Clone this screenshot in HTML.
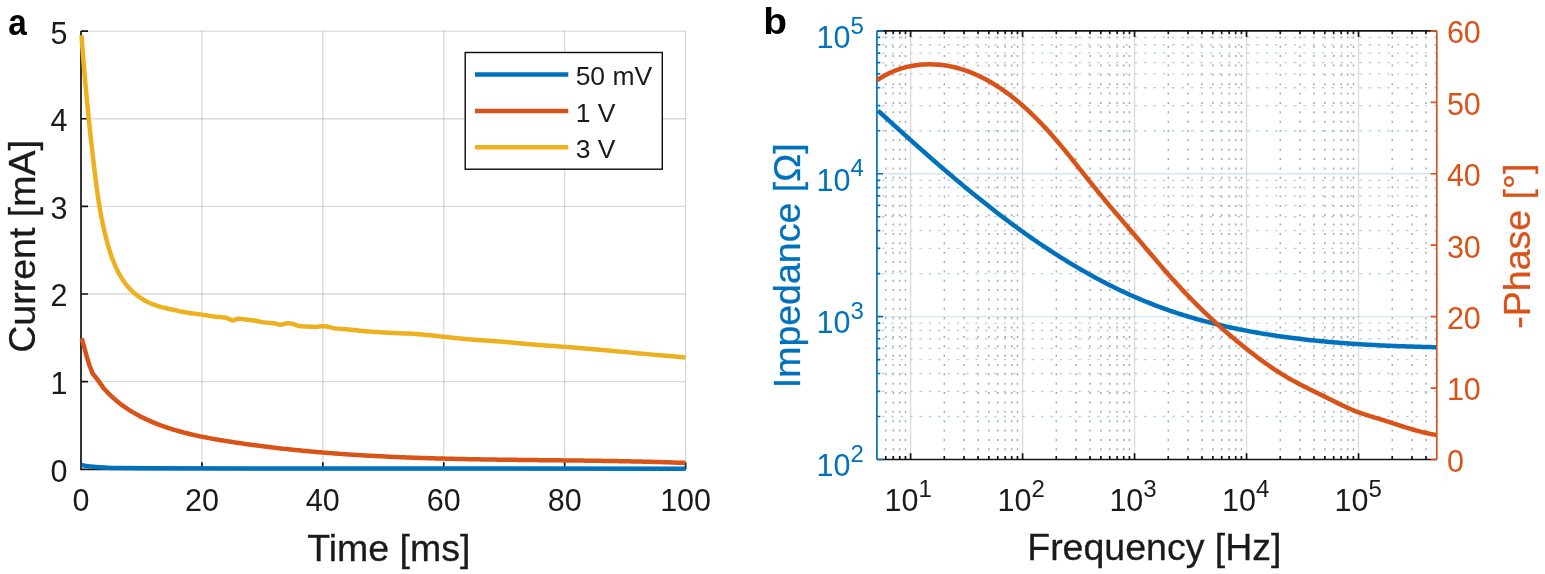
<!DOCTYPE html><html><head><meta charset="utf-8"><style>html,body{margin:0;padding:0;background:#fff;width:1545px;height:574px;overflow:hidden}svg{display:block}text{font-family:'Liberation Sans', Arial, Helvetica, sans-serif;paint-order:stroke}</style></head><body>
<svg width="1545" height="574" viewBox="0 0 1545 574">
<rect width="1545" height="574" fill="#fff"/>
<path d="M81.00 31.10V469.30M201.92 31.10V469.30M322.84 31.10V469.30M443.76 31.10V469.30M564.68 31.10V469.30M685.60 31.10V469.30" stroke="#262626" stroke-opacity="0.17" stroke-width="1.3" fill="none"/>
<path d="M81.00 469.30H685.60M81.00 381.66H685.60M81.00 294.02H685.60M81.00 206.38H685.60M81.00 118.74H685.60M81.00 31.10H685.60" stroke="#262626" stroke-opacity="0.17" stroke-width="1.3" fill="none"/>
<path d="M81.00 31.10V469.30H685.60M81.00 469.30H88.00M81.00 381.66H88.00M81.00 294.02H88.00M81.00 206.38H88.00M81.00 118.74H88.00M81.00 31.10H88.00M81.00 469.30V462.30M201.92 469.30V462.30M322.84 469.30V462.30M443.76 469.30V462.30M564.68 469.30V462.30M685.60 469.30V462.30" stroke="#141414" stroke-width="1.7" fill="none"/>
<text x="67.50" y="481.70" font-size="30.5" fill="#1a1a1a" text-anchor="end">0</text>
<text x="67.50" y="394.06" font-size="30.5" fill="#1a1a1a" text-anchor="end">1</text>
<text x="67.50" y="306.42" font-size="30.5" fill="#1a1a1a" text-anchor="end">2</text>
<text x="67.50" y="218.78" font-size="30.5" fill="#1a1a1a" text-anchor="end">3</text>
<text x="67.50" y="131.14" font-size="30.5" fill="#1a1a1a" text-anchor="end">4</text>
<text x="67.50" y="43.50" font-size="30.5" fill="#1a1a1a" text-anchor="end">5</text>
<text x="81.00" y="511.00" font-size="30.5" fill="#1a1a1a" text-anchor="middle">0</text>
<text x="201.92" y="511.00" font-size="30.5" fill="#1a1a1a" text-anchor="middle">20</text>
<text x="322.84" y="511.00" font-size="30.5" fill="#1a1a1a" text-anchor="middle">40</text>
<text x="443.76" y="511.00" font-size="30.5" fill="#1a1a1a" text-anchor="middle">60</text>
<text x="564.68" y="511.00" font-size="30.5" fill="#1a1a1a" text-anchor="middle">80</text>
<text x="685.60" y="511.00" font-size="30.5" fill="#1a1a1a" text-anchor="middle">100</text>
<path d="M81.60 465.00 C82.33 465.15 84.03 465.60 86.00 465.90 C87.97 466.20 90.23 466.52 93.40 466.80 C96.57 467.08 101.23 467.40 105.00 467.60 C108.77 467.80 108.50 467.90 116.00 468.00 C123.50 468.10 119.33 468.12 150.00 468.20 C180.67 468.28 210.75 468.42 300.00 468.50 C389.25 468.58 621.25 468.67 685.50 468.70" stroke="#0072BD" stroke-width="4.5" fill="none" stroke-linejoin="round"/>
<path d="M81.70 338.30 L84.30 347.70 L86.90 357.10 L89.50 365.50 L92.60 373.30 L97.90 380.10 L103.43 387.90 L104.79 389.46 L106.18 390.98 L107.59 392.47 L109.02 393.93 L110.47 395.35 L111.94 396.74 L113.44 398.10 L114.94 399.43 L116.47 400.73 L118.02 402.00 L119.58 403.23 L121.17 404.44 L122.76 405.62 L124.38 406.77 L126.01 407.90 L127.65 409.00 L129.31 410.07 L130.99 411.11 L132.67 412.14 L134.38 413.13 L136.09 414.10 L137.82 415.05 L139.55 415.98 L141.30 416.88 L143.06 417.76 L144.83 418.63 L146.61 419.47 L148.40 420.28 L150.20 421.09 L152.01 421.87 L153.82 422.63 L155.65 423.37 L157.48 424.10 L159.32 424.80 L161.17 425.49 L163.02 426.17 L164.88 426.82 L166.75 427.46 L168.63 428.09 L170.51 428.70 L172.40 429.29 L174.30 429.87 L176.20 430.43 L178.11 430.98 L180.03 431.52 L181.95 432.04 L183.87 432.55 L185.80 433.05 L187.73 433.53 L189.67 434.00 L191.62 434.47 L193.57 434.92 L195.52 435.36 L197.47 435.78 L199.43 436.20 L201.40 436.61 L203.36 437.01 L205.33 437.40 L207.30 437.79 L209.28 438.16 L211.25 438.53 L213.23 438.89 L215.21 439.24 L217.20 439.58 L219.18 439.92 L221.17 440.25 L223.15 440.58 L225.14 440.90 L227.13 441.22 L229.12 441.53 L231.10 441.84 L233.09 442.15 L235.08 442.45 L237.07 442.74 L239.06 443.04 L241.05 443.33 L243.04 443.62 L245.03 443.90 L247.02 444.18 L249.01 444.46 L250.99 444.73 L252.98 445.00 L254.97 445.27 L256.96 445.53 L258.95 445.79 L260.94 446.05 L262.93 446.30 L264.92 446.55 L266.91 446.80 L268.89 447.04 L270.88 447.28 L272.87 447.52 L274.86 447.75 L276.85 447.98 L278.84 448.21 L280.83 448.43 L282.82 448.66 L284.81 448.87 L286.79 449.09 L288.78 449.30 L290.77 449.51 L292.76 449.72 L294.75 449.92 L296.74 450.13 L298.73 450.32 L300.72 450.52 L302.71 450.71 L304.70 450.90 L306.68 451.09 L308.67 451.27 L310.66 451.45 L312.65 451.63 L314.64 451.81 L316.63 451.98 L318.62 452.15 L320.61 452.32 L322.60 452.49 L324.59 452.65 L326.58 452.81 L328.56 452.97 L330.55 453.13 L332.54 453.28 L334.53 453.43 L336.52 453.58 L338.51 453.72 L340.50 453.87 L342.49 454.01 L344.48 454.15 L346.47 454.28 L348.46 454.42 L350.45 454.55 L352.44 454.68 L354.43 454.81 L356.42 454.93 L358.41 455.06 L360.39 455.18 L362.38 455.30 L364.37 455.41 L366.36 455.53 L368.35 455.64 L370.34 455.75 L372.33 455.86 L374.32 455.97 L376.31 456.07 L378.30 456.17 L380.29 456.27 L382.28 456.37 L384.27 456.47 L386.26 456.57 L388.25 456.66 L390.24 456.75 L392.23 456.84 L394.22 456.93 L396.21 457.01 L398.20 457.10 L400.19 457.18 L402.18 457.26 L404.17 457.34 L406.16 457.42 L408.15 457.50 L410.15 457.57 L412.14 457.64 L414.13 457.72 L416.12 457.79 L418.11 457.85 L420.10 457.92 L422.09 457.99 L424.08 458.05 L426.07 458.11 L428.06 458.18 L430.05 458.24 L432.04 458.29 L434.04 458.35 L436.03 458.41 L438.02 458.46 L440.01 458.52 L442.00 458.57 L443.99 458.62 L445.98 458.67 L447.97 458.72 L449.97 458.77 L451.96 458.81 L453.95 458.86 L455.94 458.90 L457.93 458.95 L459.93 458.99 L461.92 459.03 L463.91 459.07 L465.90 459.11 L467.89 459.15 L469.89 459.19 L471.88 459.23 L473.87 459.26 L475.86 459.30 L477.85 459.33 L479.85 459.37 L481.84 459.40 L483.83 459.43 L485.83 459.46 L487.82 459.49 L489.81 459.52 L491.80 459.55 L493.80 459.58 L495.79 459.61 L497.78 459.64 L499.78 459.66 L501.77 459.69 L503.76 459.72 L505.76 459.74 L507.75 459.77 L509.74 459.79 L511.74 459.82 L513.73 459.84 L515.72 459.86 L517.72 459.89 L519.71 459.91 L521.71 459.93 L523.70 459.96 L525.70 459.98 L527.69 460.00 L529.68 460.02 L531.68 460.04 L533.67 460.06 L535.67 460.08 L537.66 460.11 L539.66 460.13 L541.65 460.15 L543.65 460.17 L545.64 460.19 L547.64 460.21 L549.63 460.23 L551.63 460.25 L553.62 460.27 L555.62 460.29 L557.61 460.31 L559.61 460.33 L561.61 460.36 L563.60 460.38 L565.60 460.40 L567.59 460.42 L569.59 460.44 L571.59 460.47 L573.58 460.49 L575.58 460.51 L577.58 460.53 L579.57 460.56 L581.57 460.58 L583.57 460.61 L585.56 460.63 L587.56 460.66 L589.56 460.68 L591.56 460.71 L593.55 460.74 L595.55 460.76 L597.55 460.79 L599.55 460.82 L601.54 460.85 L603.54 460.88 L605.54 460.91 L607.54 460.94 L609.54 460.97 L611.54 461.00 L613.53 461.04 L615.53 461.07 L617.53 461.11 L619.53 461.14 L621.53 461.18 L623.53 461.22 L625.53 461.25 L627.53 461.29 L629.53 461.33 L631.53 461.38 L633.53 461.42 L635.53 461.46 L637.53 461.50 L639.53 461.55 L641.53 461.60 L643.53 461.64 L645.53 461.69 L647.53 461.74 L649.53 461.79 L651.53 461.84 L653.53 461.90 L655.53 461.95 L657.53 462.01 L659.53 462.06 L661.53 462.12 L663.53 462.18 L665.54 462.24 L667.54 462.30 L669.54 462.37 L671.54 462.43 L673.54 462.50 L675.55 462.57 L677.55 462.63 L679.55 462.71 L681.55 462.78 L683.56 462.85 L685.56 462.93" stroke="#D95319" stroke-width="4.5" fill="none" stroke-linejoin="round"/>
<path d="M81.50 35.24 L81.64 37.21 L81.78 39.19 L81.93 41.17 L82.07 43.14 L82.22 45.12 L82.37 47.10 L82.52 49.09 L82.67 51.07 L82.83 53.05 L82.98 55.04 L83.14 57.02 L83.30 59.01 L83.46 60.99 L83.62 62.98 L83.78 64.96 L83.95 66.95 L84.11 68.94 L84.28 70.93 L84.45 72.92 L84.62 74.91 L84.80 76.90 L84.97 78.89 L85.15 80.88 L85.32 82.87 L85.50 84.86 L85.68 86.86 L85.87 88.85 L86.05 90.84 L86.23 92.83 L86.42 94.83 L86.61 96.82 L86.80 98.81 L86.99 100.80 L87.18 102.80 L87.38 104.79 L87.57 106.78 L87.77 108.78 L87.97 110.77 L88.17 112.76 L88.37 114.75 L88.57 116.75 L88.77 118.74 L88.98 120.73 L89.18 122.72 L89.39 124.71 L89.60 126.70 L89.81 128.69 L90.02 130.68 L90.24 132.67 L90.45 134.66 L90.67 136.65 L90.88 138.64 L91.10 140.63 L91.32 142.61 L91.54 144.60 L91.77 146.59 L91.99 148.57 L92.21 150.56 L92.44 152.54 L92.67 154.52 L92.90 156.50 L93.13 158.48 L93.36 160.46 L93.59 162.44 L93.82 164.42 L94.06 166.40 L94.30 168.38 L94.53 170.35 L94.77 172.33 L95.01 174.30 L95.25 176.27 L95.50 178.24 L95.75 180.21 L96.00 182.18 L96.25 184.15 L96.51 186.12 L96.77 188.09 L97.04 190.05 L97.31 192.02 L97.59 193.98 L97.87 195.94 L98.16 197.90 L98.45 199.87 L98.75 201.83 L99.06 203.79 L99.38 205.74 L99.71 207.70 L100.04 209.66 L100.38 211.61 L100.73 213.57 L101.09 215.53 L101.46 217.48 L101.85 219.43 L102.24 221.38 L102.64 223.34 L103.05 225.29 L103.48 227.24 L103.92 229.19 L104.37 231.14 L104.83 233.08 L105.31 235.03 L105.80 236.98 L106.30 238.93 L106.82 240.87 L107.35 242.82 L107.90 244.76 L108.46 246.71 L109.04 248.65 L109.64 250.59 L110.26 252.52 L110.90 254.45 L111.56 256.36 L112.24 258.27 L112.95 260.17 L113.68 262.05 L114.44 263.91 L115.23 265.76 L116.05 267.60 L116.90 269.41 L117.78 271.20 L118.69 272.97 L119.64 274.71 L120.63 276.42 L121.65 278.11 L122.71 279.77 L123.81 281.40 L124.95 282.99 L126.13 284.55 L127.36 286.07 L128.63 287.56 L129.95 289.00 L131.31 290.41 L132.72 291.77 L134.19 293.09 L135.69 294.36 L137.25 295.59 L138.84 296.76 L140.48 297.89 L142.16 298.97 L143.87 299.99 L145.62 300.96 L147.40 301.88 L149.21 302.74 L151.05 303.54 L152.92 304.29 L154.82 304.99 L156.73 305.63 L158.66 306.24 L160.60 306.80 L162.55 307.33 L164.51 307.83 L166.47 308.31 L168.44 308.76 L170.40 309.19 L172.35 309.60 L174.30 310.01 L176.23 310.41 L178.14 310.81 L180.00 311.40 L181.96 311.71 L184.79 312.15 L188.07 312.66 L191.44 313.19 L194.48 313.65 L196.80 314.00 L198.26 314.20 L199.15 314.30 L199.72 314.34 L200.21 314.38 L200.89 314.45 L202.00 314.60 L203.57 314.85 L205.40 315.16 L207.41 315.51 L209.51 315.86 L211.64 316.20 L213.70 316.50 L215.78 316.74 L217.97 316.93 L220.18 317.11 L222.31 317.29 L224.28 317.52 L226.00 317.80 L227.41 318.21 L228.59 318.73 L229.60 319.29 L230.52 319.80 L231.43 320.20 L232.40 320.40 L233.38 320.33 L234.29 320.05 L235.19 319.64 L236.12 319.22 L237.14 318.87 L238.30 318.70 L239.63 318.72 L241.11 318.87 L242.68 319.09 L244.27 319.34 L245.83 319.60 L247.30 319.80 L248.66 319.95 L249.94 320.09 L251.20 320.21 L252.46 320.35 L253.74 320.51 L255.10 320.70 L256.51 320.95 L257.96 321.23 L259.44 321.54 L260.95 321.86 L262.51 322.15 L264.10 322.40 L265.81 322.60 L267.63 322.77 L269.50 322.92 L271.32 323.07 L273.02 323.22 L274.50 323.40 L275.72 323.63 L276.75 323.91 L277.64 324.19 L278.49 324.45 L279.35 324.63 L280.30 324.70 L281.35 324.61 L282.44 324.39 L283.55 324.10 L284.66 323.80 L285.75 323.54 L286.80 323.40 L287.80 323.36 L288.76 323.37 L289.70 323.44 L290.64 323.55 L291.60 323.70 L292.60 323.90 L293.60 324.17 L294.57 324.54 L295.57 324.94 L296.63 325.35 L297.79 325.72 L299.10 326.00 L300.64 326.19 L302.39 326.32 L304.25 326.41 L306.11 326.48 L307.86 326.53 L309.40 326.60 L310.70 326.68 L311.85 326.76 L312.89 326.83 L313.87 326.89 L314.86 326.91 L315.90 326.90 L316.98 326.82 L318.07 326.69 L319.15 326.52 L320.23 326.37 L321.32 326.25 L322.40 326.20 L323.48 326.23 L324.57 326.30 L325.66 326.41 L326.74 326.56 L327.82 326.72 L328.90 326.90 L329.90 327.11 L330.80 327.36 L331.69 327.62 L332.68 327.90 L333.85 328.16 L335.30 328.40 L337.04 328.60 L339.00 328.77 L341.15 328.94 L343.44 329.10 L345.84 329.29 L348.30 329.50 L350.90 329.76 L353.69 330.04 L356.58 330.35 L359.50 330.66 L362.37 330.94 L365.10 331.20 L367.53 331.42 L369.69 331.60 L371.80 331.77 L374.07 331.94 L376.73 332.11 L380.00 332.30 L384.12 332.51 L388.96 332.72 L394.19 332.94 L399.47 333.16 L404.45 333.38 L408.80 333.60 L412.46 333.81 L415.70 334.01 L418.65 334.21 L421.43 334.42 L424.17 334.65 L427.00 334.90 L429.73 335.17 L432.22 335.45 L434.67 335.75 L437.29 336.07 L440.26 336.42 L443.80 336.80 L447.99 337.23 L452.68 337.71 L457.73 338.23 L463.00 338.74 L468.34 339.24 L473.60 339.70 L478.84 340.11 L484.18 340.49 L489.59 340.85 L495.03 341.21 L500.48 341.59 L505.90 342.00 L511.30 342.45 L516.72 342.94 L522.14 343.44 L527.55 343.95 L532.94 344.44 L538.30 344.90 L543.58 345.32 L548.79 345.72 L553.97 346.10 L559.19 346.48 L564.52 346.88 L570.00 347.30 L575.72 347.75 L581.63 348.23 L587.65 348.71 L593.67 349.21 L599.58 349.71 L605.30 350.20 L610.60 350.68 L615.51 351.15 L620.32 351.62 L625.32 352.11 L630.79 352.63 L637.00 353.20 L644.67 353.88 L653.72 354.67 L663.23 355.49 L672.30 356.27 L680.03 356.93 L685.50 357.40" stroke="#EDB120" stroke-width="4.5" fill="none" stroke-linejoin="round"/>
<rect x="465.2" y="52.5" width="197.1" height="116.7" fill="#fff" stroke="#0a0a0a" stroke-width="1.4"/>
<path d="M475 74.50H568.3" stroke="#0072BD" stroke-width="4.4"/>
<text x="575.64" y="85.10" font-size="26.5" fill="#1a1a1a">50 mV</text>
<path d="M475 111.00H568.3" stroke="#D95319" stroke-width="4.4"/>
<text x="575.64" y="121.60" font-size="26.5" fill="#1a1a1a">1 V</text>
<path d="M475 147.20H568.3" stroke="#EDB120" stroke-width="4.4"/>
<text x="575.64" y="157.80" font-size="26.5" fill="#1a1a1a">3 V</text>
<text x="307.28" y="560.5" font-size="37.5" fill="#1a1a1a" stroke="#1a1a1a" stroke-width="0.3">Time [ms]</text>
<text transform="translate(34.6 352.71) rotate(-90)" font-size="37.5" fill="#1a1a1a" stroke="#1a1a1a" stroke-width="0.3">Current [mA]</text>
<text transform="translate(8.2 35.2) scale(0.9 1)" font-size="37" font-weight="bold" fill="#000">a</text>
<text transform="translate(763.3 34) scale(1.05 1)" font-size="37" font-weight="bold" fill="#000">b</text>
<path d="M910.61 30.90V459.50M1022.59 30.90V459.50M1134.57 30.90V459.50M1246.55 30.90V459.50M1358.53 30.90V459.50" stroke="#262626" stroke-opacity="0.17" stroke-width="1.3" fill="none"/>
<path d="M876.90 316.63H1436.80M876.90 173.77H1436.80" stroke="#0072BD" stroke-opacity="0.17" stroke-width="1.3" fill="none"/>
<path d="M885.77 30.90V459.50M893.26 30.90V459.50M899.76 30.90V459.50M905.49 30.90V459.50M944.32 30.90V459.50M964.04 30.90V459.50M978.03 30.90V459.50M988.88 30.90V459.50M997.75 30.90V459.50M1005.24 30.90V459.50M1011.74 30.90V459.50M1017.47 30.90V459.50M1056.30 30.90V459.50M1076.02 30.90V459.50M1090.01 30.90V459.50M1100.86 30.90V459.50M1109.73 30.90V459.50M1117.22 30.90V459.50M1123.72 30.90V459.50M1129.45 30.90V459.50M1168.28 30.90V459.50M1188.00 30.90V459.50M1201.99 30.90V459.50M1212.84 30.90V459.50M1221.71 30.90V459.50M1229.20 30.90V459.50M1235.70 30.90V459.50M1241.43 30.90V459.50M1280.26 30.90V459.50M1299.98 30.90V459.50M1313.97 30.90V459.50M1324.82 30.90V459.50M1333.69 30.90V459.50M1341.18 30.90V459.50M1347.68 30.90V459.50M1353.41 30.90V459.50M1392.24 30.90V459.50M1411.96 30.90V459.50M1425.95 30.90V459.50" stroke="#a3a3a3" stroke-width="1.4" fill="none" stroke-dasharray="2 7.36" stroke-dashoffset="3.86"/>
<path d="M876.90 416.49H1436.80M876.90 391.34H1436.80M876.90 373.49H1436.80M876.90 359.64H1436.80M876.90 348.33H1436.80M876.90 338.76H1436.80M876.90 330.48H1436.80M876.90 323.17H1436.80M876.90 273.63H1436.80M876.90 248.47H1436.80M876.90 230.62H1436.80M876.90 216.77H1436.80M876.90 205.46H1436.80M876.90 195.90H1436.80M876.90 187.61H1436.80M876.90 180.30H1436.80M876.90 130.76H1436.80M876.90 105.60H1436.80M876.90 87.75H1436.80M876.90 73.91H1436.80M876.90 62.59H1436.80M876.90 53.03H1436.80M876.90 44.75H1436.80M876.90 37.44H1436.80" stroke="#b0cfe8" stroke-width="1.3" fill="none" stroke-dasharray="2.4 6.96" stroke-dashoffset="4.3"/>
<path d="M876.90 30.90H1436.80M876.90 459.50H1436.80M910.61 459.50V453.30M910.61 30.90V37.10M1022.59 459.50V453.30M1022.59 30.90V37.10M1134.57 459.50V453.30M1134.57 30.90V37.10M1246.55 459.50V453.30M1246.55 30.90V37.10M1358.53 459.50V453.30M1358.53 30.90V37.10M885.77 459.50V456.10M885.77 30.90V34.30M893.26 459.50V456.10M893.26 30.90V34.30M899.76 459.50V456.10M899.76 30.90V34.30M905.49 459.50V456.10M905.49 30.90V34.30M944.32 459.50V456.10M944.32 30.90V34.30M964.04 459.50V456.10M964.04 30.90V34.30M978.03 459.50V456.10M978.03 30.90V34.30M988.88 459.50V456.10M988.88 30.90V34.30M997.75 459.50V456.10M997.75 30.90V34.30M1005.24 459.50V456.10M1005.24 30.90V34.30M1011.74 459.50V456.10M1011.74 30.90V34.30M1017.47 459.50V456.10M1017.47 30.90V34.30M1056.30 459.50V456.10M1056.30 30.90V34.30M1076.02 459.50V456.10M1076.02 30.90V34.30M1090.01 459.50V456.10M1090.01 30.90V34.30M1100.86 459.50V456.10M1100.86 30.90V34.30M1109.73 459.50V456.10M1109.73 30.90V34.30M1117.22 459.50V456.10M1117.22 30.90V34.30M1123.72 459.50V456.10M1123.72 30.90V34.30M1129.45 459.50V456.10M1129.45 30.90V34.30M1168.28 459.50V456.10M1168.28 30.90V34.30M1188.00 459.50V456.10M1188.00 30.90V34.30M1201.99 459.50V456.10M1201.99 30.90V34.30M1212.84 459.50V456.10M1212.84 30.90V34.30M1221.71 459.50V456.10M1221.71 30.90V34.30M1229.20 459.50V456.10M1229.20 30.90V34.30M1235.70 459.50V456.10M1235.70 30.90V34.30M1241.43 459.50V456.10M1241.43 30.90V34.30M1280.26 459.50V456.10M1280.26 30.90V34.30M1299.98 459.50V456.10M1299.98 30.90V34.30M1313.97 459.50V456.10M1313.97 30.90V34.30M1324.82 459.50V456.10M1324.82 30.90V34.30M1333.69 459.50V456.10M1333.69 30.90V34.30M1341.18 459.50V456.10M1341.18 30.90V34.30M1347.68 459.50V456.10M1347.68 30.90V34.30M1353.41 459.50V456.10M1353.41 30.90V34.30M1392.24 459.50V456.10M1392.24 30.90V34.30M1411.96 459.50V456.10M1411.96 30.90V34.30M1425.95 459.50V456.10M1425.95 30.90V34.30" stroke="#141414" stroke-width="1.7" fill="none"/>
<path d="M876.90 30.90V459.50M876.90 459.50H883.10M876.90 316.63H883.10M876.90 173.77H883.10M876.90 30.90H883.10M876.90 416.49H880.30M876.90 391.34H880.30M876.90 373.49H880.30M876.90 359.64H880.30M876.90 348.33H880.30M876.90 338.76H880.30M876.90 330.48H880.30M876.90 323.17H880.30M876.90 273.63H880.30M876.90 248.47H880.30M876.90 230.62H880.30M876.90 216.77H880.30M876.90 205.46H880.30M876.90 195.90H880.30M876.90 187.61H880.30M876.90 180.30H880.30M876.90 130.76H880.30M876.90 105.60H880.30M876.90 87.75H880.30M876.90 73.91H880.30M876.90 62.59H880.30M876.90 53.03H880.30M876.90 44.75H880.30M876.90 37.44H880.30" stroke="#0072BD" stroke-width="1.7" fill="none"/>
<path d="M1436.80 30.90V459.50M1436.80 459.50H1430.60M1436.80 388.07H1430.60M1436.80 316.63H1430.60M1436.80 245.20H1430.60M1436.80 173.77H1430.60M1436.80 102.33H1430.60M1436.80 30.90H1430.60" stroke="#D95319" stroke-width="1.7" fill="none"/>
<path d="M877.98 110.59 L879.43 111.90 L880.87 113.22 L882.31 114.53 L883.76 115.85 L885.21 117.16 L886.66 118.48 L888.11 119.80 L889.56 121.12 L891.02 122.44 L892.48 123.76 L893.93 125.08 L895.39 126.40 L896.85 127.72 L898.32 129.04 L899.78 130.36 L901.25 131.68 L902.72 133.00 L904.19 134.32 L905.66 135.64 L907.13 136.97 L908.60 138.29 L910.08 139.61 L911.56 140.93 L913.04 142.25 L914.52 143.57 L916.01 144.89 L917.49 146.21 L918.98 147.53 L920.47 148.85 L921.96 150.17 L923.45 151.49 L924.95 152.81 L926.44 154.12 L927.94 155.44 L929.44 156.75 L930.94 158.07 L932.45 159.38 L933.95 160.69 L935.46 162.00 L936.97 163.31 L938.48 164.62 L940.00 165.93 L941.51 167.24 L943.03 168.54 L944.55 169.85 L946.07 171.15 L947.59 172.45 L949.12 173.75 L950.65 175.05 L952.18 176.34 L953.71 177.64 L955.24 178.93 L956.78 180.22 L958.31 181.51 L959.85 182.80 L961.40 184.09 L962.94 185.37 L964.49 186.65 L966.03 187.93 L967.58 189.21 L969.14 190.49 L970.69 191.76 L972.25 193.03 L973.81 194.30 L975.37 195.56 L976.93 196.83 L978.50 198.09 L980.07 199.35 L981.64 200.60 L983.21 201.86 L984.78 203.11 L986.36 204.36 L987.94 205.60 L989.52 206.84 L991.10 208.08 L992.69 209.32 L994.28 210.55 L995.87 211.78 L997.46 213.01 L999.06 214.23 L1000.65 215.45 L1002.25 216.67 L1003.85 217.88 L1005.46 219.09 L1007.07 220.30 L1008.68 221.50 L1010.29 222.70 L1011.90 223.90 L1013.52 225.09 L1015.14 226.28 L1016.76 227.47 L1018.38 228.65 L1020.01 229.83 L1021.64 231.00 L1023.27 232.17 L1024.90 233.33 L1026.54 234.50 L1028.18 235.65 L1029.82 236.81 L1031.46 237.96 L1033.11 239.10 L1034.76 240.24 L1036.41 241.38 L1038.07 242.51 L1039.72 243.63 L1041.38 244.76 L1043.04 245.87 L1044.71 246.99 L1046.38 248.09 L1048.05 249.20 L1049.72 250.30 L1051.39 251.39 L1053.07 252.48 L1054.75 253.56 L1056.44 254.64 L1058.12 255.71 L1059.81 256.78 L1061.50 257.85 L1063.20 258.90 L1064.89 259.96 L1066.59 261.00 L1068.30 262.05 L1070.00 263.08 L1071.71 264.11 L1073.42 265.14 L1075.13 266.16 L1076.85 267.17 L1078.57 268.18 L1080.29 269.18 L1082.02 270.18 L1083.74 271.17 L1085.47 272.15 L1087.21 273.13 L1088.94 274.11 L1090.68 275.07 L1092.43 276.03 L1094.17 276.99 L1095.92 277.94 L1097.67 278.88 L1099.42 279.81 L1101.18 280.74 L1102.94 281.66 L1104.70 282.58 L1106.47 283.49 L1108.24 284.39 L1110.01 285.29 L1111.78 286.18 L1113.56 287.06 L1115.34 287.93 L1117.13 288.80 L1118.91 289.66 L1120.70 290.52 L1122.50 291.37 L1124.29 292.21 L1126.09 293.04 L1127.90 293.87 L1129.70 294.69 L1131.51 295.50 L1133.32 296.30 L1135.14 297.10 L1136.96 297.89 L1138.78 298.67 L1140.60 299.44 L1142.43 300.21 L1144.26 300.97 L1146.09 301.72 L1147.93 302.46 L1149.77 303.20 L1151.62 303.93 L1153.46 304.65 L1155.31 305.36 L1157.17 306.06 L1159.02 306.76 L1160.88 307.44 L1162.75 308.12 L1164.61 308.79 L1166.48 309.46 L1168.36 310.11 L1170.23 310.76 L1172.11 311.40 L1173.99 312.03 L1175.88 312.66 L1177.76 313.28 L1179.65 313.89 L1181.55 314.49 L1183.44 315.09 L1185.34 315.67 L1187.24 316.25 L1189.15 316.83 L1191.05 317.39 L1192.96 317.95 L1194.88 318.50 L1196.79 319.05 L1198.71 319.58 L1200.63 320.12 L1202.55 320.64 L1204.47 321.16 L1206.40 321.67 L1208.33 322.17 L1210.26 322.66 L1212.19 323.15 L1214.13 323.64 L1216.06 324.11 L1218.00 324.58 L1219.95 325.05 L1221.89 325.50 L1223.84 325.95 L1225.78 326.40 L1227.73 326.84 L1229.69 327.27 L1231.64 327.69 L1233.60 328.11 L1235.55 328.52 L1237.51 328.93 L1239.47 329.33 L1241.44 329.73 L1243.40 330.11 L1245.37 330.50 L1247.33 330.87 L1249.30 331.25 L1251.27 331.61 L1253.24 331.97 L1255.22 332.33 L1257.19 332.68 L1259.17 333.02 L1261.15 333.36 L1263.12 333.69 L1265.10 334.01 L1267.09 334.34 L1269.07 334.65 L1271.05 334.96 L1273.04 335.27 L1275.02 335.57 L1277.01 335.87 L1279.00 336.16 L1280.99 336.44 L1282.98 336.72 L1284.97 337.00 L1286.96 337.27 L1288.95 337.53 L1290.94 337.79 L1292.94 338.05 L1294.93 338.30 L1296.93 338.55 L1298.92 338.79 L1300.92 339.03 L1302.92 339.26 L1304.91 339.49 L1306.91 339.72 L1308.91 339.94 L1310.91 340.15 L1312.91 340.36 L1314.91 340.57 L1316.91 340.78 L1318.91 340.97 L1320.91 341.17 L1322.91 341.36 L1324.91 341.55 L1326.91 341.73 L1328.91 341.91 L1330.92 342.09 L1332.92 342.26 L1334.92 342.43 L1336.92 342.59 L1338.92 342.75 L1340.92 342.91 L1342.92 343.06 L1344.92 343.21 L1346.92 343.36 L1348.92 343.50 L1350.92 343.64 L1352.92 343.78 L1354.92 343.92 L1356.92 344.05 L1358.92 344.17 L1360.92 344.30 L1362.92 344.42 L1364.91 344.54 L1366.91 344.65 L1368.90 344.77 L1370.90 344.87 L1372.89 344.98 L1374.89 345.09 L1376.88 345.19 L1378.87 345.29 L1380.86 345.38 L1382.85 345.48 L1384.84 345.57 L1386.83 345.66 L1388.82 345.74 L1390.80 345.83 L1392.79 345.91 L1394.77 345.99 L1396.76 346.06 L1398.74 346.14 L1400.72 346.21 L1402.70 346.28 L1404.68 346.35 L1406.65 346.42 L1408.63 346.48 L1410.60 346.54 L1412.58 346.61 L1414.55 346.66 L1416.52 346.72 L1418.48 346.78 L1420.45 346.83 L1422.42 346.88 L1424.38 346.94 L1426.34 346.99 L1428.30 347.03 L1430.26 347.08 L1432.22 347.13 L1434.17 347.17 L1436.12 347.21" stroke="#0072BD" stroke-width="4.5" fill="none" stroke-linejoin="round"/>
<path d="M876.91 80.34 L878.64 79.17 L880.38 78.05 L882.14 76.97 L883.91 75.94 L885.71 74.96 L887.52 74.02 L889.34 73.13 L891.18 72.28 L893.03 71.48 L894.90 70.72 L896.77 70.01 L898.66 69.34 L900.56 68.71 L902.48 68.13 L904.40 67.59 L906.33 67.09 L908.26 66.63 L910.21 66.22 L912.16 65.85 L914.12 65.52 L916.09 65.23 L918.06 64.98 L920.03 64.77 L922.01 64.60 L923.99 64.48 L925.97 64.39 L927.95 64.34 L929.94 64.32 L931.92 64.35 L933.91 64.41 L935.89 64.51 L937.87 64.65 L939.85 64.83 L941.82 65.04 L943.80 65.29 L945.76 65.58 L947.72 65.90 L949.68 66.25 L951.63 66.64 L953.57 67.07 L955.50 67.53 L957.43 68.02 L959.34 68.55 L961.25 69.11 L963.14 69.70 L965.03 70.32 L966.91 70.98 L968.78 71.66 L970.63 72.38 L972.48 73.12 L974.32 73.89 L976.15 74.69 L977.97 75.52 L979.77 76.37 L981.57 77.25 L983.36 78.16 L985.13 79.09 L986.90 80.04 L988.65 81.02 L990.40 82.02 L992.13 83.04 L993.85 84.08 L995.56 85.14 L997.26 86.22 L998.95 87.33 L1000.63 88.45 L1002.29 89.59 L1003.95 90.74 L1005.59 91.92 L1007.22 93.11 L1008.84 94.31 L1010.45 95.53 L1012.04 96.77 L1013.62 98.01 L1015.19 99.27 L1016.75 100.55 L1018.29 101.83 L1019.83 103.13 L1021.35 104.44 L1022.85 105.76 L1024.35 107.08 L1025.84 108.42 L1027.31 109.77 L1028.77 111.13 L1030.22 112.50 L1031.67 113.88 L1033.10 115.26 L1034.52 116.66 L1035.93 118.06 L1037.33 119.48 L1038.73 120.90 L1040.11 122.33 L1041.49 123.76 L1042.86 125.21 L1044.22 126.66 L1045.57 128.12 L1046.91 129.58 L1048.25 131.05 L1049.58 132.53 L1050.90 134.02 L1052.22 135.51 L1053.53 137.00 L1054.84 138.51 L1056.14 140.01 L1057.43 141.52 L1058.72 143.04 L1060.00 144.56 L1061.28 146.09 L1062.56 147.62 L1063.83 149.15 L1065.09 150.69 L1066.36 152.23 L1067.62 153.77 L1068.87 155.32 L1070.13 156.87 L1071.38 158.42 L1072.63 159.98 L1073.88 161.54 L1075.12 163.09 L1076.37 164.65 L1077.61 166.22 L1078.85 167.78 L1080.10 169.34 L1081.34 170.91 L1082.58 172.47 L1083.82 174.04 L1085.06 175.60 L1086.30 177.17 L1087.55 178.73 L1088.79 180.30 L1090.04 181.86 L1091.29 183.42 L1092.54 184.98 L1093.79 186.54 L1095.04 188.10 L1096.30 189.65 L1097.56 191.21 L1098.82 192.76 L1100.09 194.30 L1101.36 195.85 L1102.63 197.39 L1103.91 198.93 L1105.19 200.47 L1106.47 202.01 L1107.75 203.55 L1109.04 205.08 L1110.33 206.61 L1111.62 208.14 L1112.91 209.67 L1114.21 211.20 L1115.50 212.72 L1116.80 214.25 L1118.10 215.77 L1119.40 217.29 L1120.70 218.81 L1122.00 220.33 L1123.30 221.85 L1124.60 223.37 L1125.91 224.89 L1127.21 226.41 L1128.52 227.93 L1129.82 229.45 L1131.12 230.96 L1132.43 232.48 L1133.73 234.00 L1135.03 235.52 L1136.33 237.03 L1137.63 238.55 L1138.93 240.07 L1140.23 241.59 L1141.53 243.11 L1142.82 244.63 L1144.12 246.15 L1145.41 247.68 L1146.71 249.20 L1148.00 250.72 L1149.29 252.24 L1150.58 253.76 L1151.88 255.28 L1153.17 256.80 L1154.46 258.32 L1155.76 259.84 L1157.06 261.35 L1158.36 262.87 L1159.66 264.38 L1160.96 265.89 L1162.26 267.40 L1163.57 268.91 L1164.88 270.41 L1166.19 271.92 L1167.50 273.42 L1168.82 274.91 L1170.15 276.41 L1171.47 277.90 L1172.80 279.38 L1174.14 280.87 L1175.47 282.35 L1176.82 283.82 L1178.17 285.30 L1179.52 286.76 L1180.88 288.23 L1182.24 289.69 L1183.61 291.14 L1184.99 292.59 L1186.36 294.04 L1187.75 295.48 L1189.14 296.92 L1190.53 298.35 L1191.93 299.78 L1193.33 301.21 L1194.74 302.63 L1196.15 304.04 L1197.57 305.45 L1198.99 306.86 L1200.42 308.26 L1201.85 309.66 L1203.28 311.05 L1204.72 312.44 L1206.17 313.82 L1207.62 315.20 L1209.07 316.57 L1210.53 317.94 L1212.00 319.30 L1213.47 320.66 L1214.94 322.01 L1216.42 323.36 L1217.90 324.70 L1219.39 326.04 L1220.88 327.37 L1222.38 328.70 L1223.88 330.02 L1225.38 331.34 L1226.89 332.65 L1228.41 333.96 L1229.92 335.26 L1231.45 336.56 L1232.97 337.85 L1234.51 339.13 L1236.04 340.41 L1237.58 341.69 L1239.13 342.96 L1240.68 344.22 L1242.23 345.48 L1243.79 346.73 L1245.35 347.98 L1246.92 349.22 L1248.49 350.45 L1250.06 351.68 L1251.64 352.90 L1253.22 354.12 L1254.81 355.33 L1256.40 356.54 L1258.00 357.74 L1259.60 358.93 L1261.21 360.11 L1262.82 361.28 L1264.44 362.45 L1266.07 363.61 L1267.70 364.76 L1269.33 365.90 L1270.98 367.03 L1272.63 368.15 L1274.28 369.26 L1275.95 370.35 L1277.62 371.44 L1279.30 372.51 L1280.98 373.58 L1282.68 374.63 L1284.38 375.66 L1286.09 376.69 L1287.81 377.70 L1289.54 378.69 L1291.28 379.67 L1293.02 380.64 L1294.78 381.60 L1296.54 382.54 L1298.31 383.48 L1300.08 384.40 L1301.86 385.32 L1303.64 386.23 L1305.43 387.13 L1307.22 388.03 L1309.01 388.92 L1310.81 389.81 L1312.61 390.70 L1314.40 391.58 L1316.20 392.46 L1318.00 393.34 L1319.80 394.23 L1321.60 395.11 L1323.40 396.00 L1325.19 396.88 L1326.98 397.78 L1328.77 398.67 L1330.56 399.57 L1332.34 400.47 L1334.13 401.36 L1335.92 402.25 L1337.71 403.13 L1339.50 404.01 L1341.29 404.88 L1343.09 405.73 L1344.89 406.58 L1346.70 407.41 L1348.52 408.22 L1350.34 409.02 L1352.17 409.80 L1354.00 410.55 L1355.85 411.29 L1357.70 412.00 L1359.57 412.69 L1361.45 413.35 L1363.33 413.99 L1365.23 414.61 L1367.13 415.21 L1369.03 415.80 L1370.94 416.39 L1372.85 416.97 L1374.76 417.54 L1376.68 418.12 L1378.59 418.69 L1380.50 419.28 L1382.40 419.87 L1384.30 420.47 L1386.20 421.08 L1388.10 421.69 L1390.00 422.30 L1391.89 422.92 L1393.79 423.53 L1395.68 424.15 L1397.57 424.77 L1399.47 425.38 L1401.36 425.99 L1403.26 426.59 L1405.16 427.19 L1407.06 427.78 L1408.96 428.36 L1410.87 428.93 L1412.78 429.50 L1414.69 430.04 L1416.61 430.58 L1418.54 431.10 L1420.47 431.60 L1422.40 432.09 L1424.35 432.56 L1426.30 433.01 L1428.25 433.44 L1430.22 433.85 L1432.19 434.23 L1434.17 434.59 L1436.16 434.92" stroke="#D95319" stroke-width="4.5" fill="none" stroke-linejoin="round"/>
<text x="816.48" y="476.30" font-size="30.5" fill="#0072BD">10<tspan font-size="24" dy="-14.2">2</tspan></text>
<text x="816.48" y="333.43" font-size="30.5" fill="#0072BD">10<tspan font-size="24" dy="-14.2">3</tspan></text>
<text x="816.48" y="190.57" font-size="30.5" fill="#0072BD">10<tspan font-size="24" dy="-14.2">4</tspan></text>
<text x="816.48" y="47.70" font-size="30.5" fill="#0072BD">10<tspan font-size="24" dy="-14.2">5</tspan></text>
<text x="884.58" y="511.30" font-size="30.5" fill="#1a1a1a">10<tspan font-size="24" dy="-14.2">1</tspan></text>
<text x="997.48" y="511.30" font-size="30.5" fill="#1a1a1a">10<tspan font-size="24" dy="-14.2">2</tspan></text>
<text x="1109.38" y="511.30" font-size="30.5" fill="#1a1a1a">10<tspan font-size="24" dy="-14.2">3</tspan></text>
<text x="1222.08" y="511.30" font-size="30.5" fill="#1a1a1a">10<tspan font-size="24" dy="-14.2">4</tspan></text>
<text x="1334.48" y="511.30" font-size="30.5" fill="#1a1a1a">10<tspan font-size="24" dy="-14.2">5</tspan></text>
<text x="1446.88" y="471.80" font-size="30.5" fill="#D95319">0</text>
<text x="1446.88" y="400.37" font-size="30.5" fill="#D95319">10</text>
<text x="1446.88" y="328.93" font-size="30.5" fill="#D95319">20</text>
<text x="1446.88" y="257.50" font-size="30.5" fill="#D95319">30</text>
<text x="1446.88" y="186.07" font-size="30.5" fill="#D95319">40</text>
<text x="1446.88" y="114.63" font-size="30.5" fill="#D95319">50</text>
<text x="1446.88" y="43.20" font-size="30.5" fill="#D95319">60</text>
<text x="1027.22" y="560" font-size="37.5" fill="#1a1a1a" stroke="#1a1a1a" stroke-width="0.3">Frequency [Hz]</text>
<text transform="translate(799.80 388.25) rotate(-90)" font-size="37.5" fill="#0072BD" stroke="#0072BD" stroke-width="0.3">Impedance [Ω]</text>
<text transform="translate(1530.00 328.65) rotate(-90)" font-size="37.5" fill="#D95319" stroke="#D95319" stroke-width="0.3">-Phase [°]</text>
</svg></body></html>
